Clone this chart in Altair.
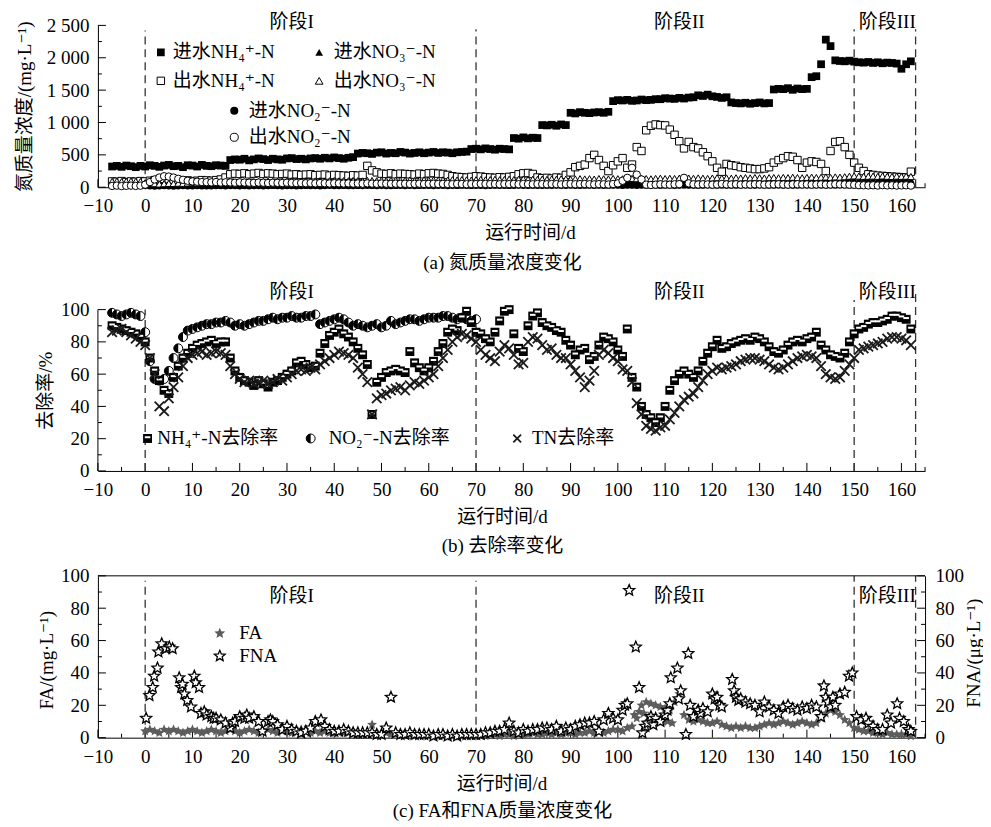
import math
import pandas as pd
import altair as alt

FONT = "Liberation Serif, DejaVu Serif, Noto Sans CJK SC"
FS = 19

# ---------------- data ----------------
A_START = -7   # first day of the daily series in panels (a) and (b)

# (a) mg/L, one value per day from day -7 to 162
INF_NH4 = [320, 330, 315, 335, 325, 310, 330, 320, 340, 330,
           315, 335, 345, 325, 330, 310, 340, 335, 320, 345,
           330, 325, 340, 335, 330, 420, 430, 425, 440, 415,
           430, 445, 435, 420, 440, 430, 425, 445, 450, 435,
           440, 430, 445, 450, 440, 455, 445, 460, 450, 440,
           455, 465, 520, 530, 525, 515, 535, 540, 520, 530,
           525, 545, 535, 520, 530, 540, 525, 535, 545, 530,
           540, 535, 525, 540, 545, 550, 590, 595, 585, 600,
           590, 580, 595, 590, 585, 760, 750, 770, 755, 765,
           760, 960, 955, 965, 950, 970, 960, 1150, 1140, 1160,
           1150, 1145, 1155, 1160, 1150, 1165, 1330, 1345, 1340, 1350,
           1335, 1340, 1355, 1345, 1350, 1360, 1360, 1375, 1370, 1365,
           1380, 1370, 1385, 1390, 1420, 1410, 1430, 1405, 1395, 1380,
           1390, 1310, 1300, 1295, 1305, 1290, 1300, 1310, 1295, 1300,
           1510, 1520, 1515, 1530, 1505, 1525, 1515, 1520, 1700, 1715,
           1900, 2280, 2180, 1960, 1950, 1945, 1955, 1940, 1930, 1925,
           1935, 1920, 1930, 1915, 1925, 1920, 1910, 1830, 1900, 1945]
EFF_NH4 = [90, 85, 95, 80, 90, 85, 95, 90, 100, 110,
           120, 130, 125, 115, 110, 100, 105, 95, 100, 110,
           105, 100, 110, 120, 150, 200, 210, 205, 215, 200,
           210, 220, 205, 215, 210, 200, 205, 210, 195, 200,
           190, 195, 200, 185, 190, 195, 180, 190, 185, 180,
           175, 185, 180, 190, 330, 260, 230, 210, 205, 215,
           200, 210, 205, 200, 195, 210, 200, 215, 220, 210,
           205, 190, 170, 160, 155, 150, 160, 170, 165, 155,
           150, 145, 155, 150, 160, 170, 200, 215, 220, 205,
           150, 140, 145, 135, 150, 145, 190, 230, 310, 330,
           350, 450, 500, 420, 330, 250, 340, 400, 450, 300,
           350, 620, 560, 880, 950, 970, 960, 955, 890, 810,
           710, 600, 700, 620, 600, 540, 480, 400, 300, 240,
           360, 340, 330, 310, 300, 290, 280, 280, 290, 310,
           380, 420, 450, 480, 470, 420, 300, 380, 400, 390,
           360, 250, 560, 700, 710, 620, 500, 380, 300, 250,
           200, 190, 180, 175, 170, 165, 160, 155, 150, 240]
INF_NO3 = [60, 65, 58, 62, 60, 55, 63, 60, 58, 62,
           65, 60, 62, 58, 64, 60, 66, 62, 60, 64,
           62, 66, 60, 64, 62, 68, 65, 70, 66, 68,
           70, 66, 72, 68, 70, 74, 70, 72, 68, 74,
           72, 70, 76, 72, 74, 70, 76, 74, 78, 72,
           76, 74, 78, 80, 76, 78, 82, 78, 80, 76,
           80, 78, 82, 84, 80, 82, 78, 84, 82, 80,
           84, 82, 86, 80, 84, 88, 86, 82, 88, 84,
           86, 90, 88, 84, 90, 88, 92, 86, 90, 94,
           90, 92, 88, 94, 92, 96, 90, 94, 98, 92,
           96, 94, 98, 100, 96, 92, 98, 102, 96, 100,
           98, 102, 100, 96, 104, 100, 98, 102, 106, 100,
           104, 100, 106, 102, 108, 104, 100, 106, 110, 104,
           108, 106, 110, 104, 112, 108, 110, 114, 108, 112,
           110, 114, 112, 116, 110, 114, 118, 112, 116, 114,
           118, 114, 120, 116, 122, 118, 120, 124, 118, 122,
           120, 124, 118, 122, 126, 120, 124, 122, 126, 120]
EFF_NO3 = [90, 95, 88, 92, 95, 90, 88, 70, 60, 55,
           50, 55, 60, 58, 62, 60, 65, 70, 68, 72,
           75, 70, 78, 80, 82, 85, 80, 88, 84, 90,
           86, 92, 88, 95, 90, 92, 96, 94, 98, 92,
           96, 100, 95, 98, 102, 96, 100, 104, 98, 102,
           100, 105, 102, 98, 106, 104, 100, 108, 104, 106,
           110, 106, 108, 112, 104, 110, 114, 108, 112, 110,
           114, 110, 116, 112, 118, 114, 110, 116, 120, 114,
           118, 122, 116, 120, 124, 118, 122, 126, 120, 124,
           122, 126, 120, 128, 124, 130, 126, 122, 128, 132,
           128, 132, 126, 134, 130, 128, 136, 132, 130, 134,
           136, 132, 138, 134, 130, 136, 140, 134, 138, 136,
           140, 136, 142, 138, 144, 140, 136, 142, 146, 140,
           144, 140, 146, 142, 148, 144, 150, 146, 142, 148,
           150, 146, 152, 148, 154, 150, 146, 152, 156, 150,
           154, 158, 152, 160, 156, 162, 170, 175, 172, 168,
           170, 172, 168, 174, 170, 166, 172, 168, 170, 165]
INF_NO2 = [30, 28, 32, 30, 26, 30, 28, 25, 22, 20,
           22, 25, 24, 20, 22, 26, 24, 22, 25, 23,
           24, 22, 26, 25, 23, 27, 25, 24, 26, 22,
           25, 27, 24, 26, 28, 25, 23, 27, 26, 24,
           26, 28, 25, 27, 24, 26, 29, 27, 25, 28,
           27, 25, 28, 26, 30, 28, 26, 29, 27, 25,
           28, 30, 27, 29, 26, 28, 31, 29, 27, 30,
           29, 27, 30, 28, 32, 30, 28, 31, 29, 27,
           30, 32, 29, 31, 28, 30, 33, 31, 29, 32,
           31, 29, 32, 30, 34, 32, 30, 33, 31, 29,
           32, 34, 31, 33, 30, 32, 35, 33, 31, 34,
           33, 31, 34, 32, 36, 34, 32, 35, 33, 31,
           34, 36, 33, 35, 32, 34, 37, 35, 33, 36,
           35, 33, 36, 34, 38, 36, 34, 37, 35, 33,
           36, 38, 35, 37, 34, 36, 39, 37, 35, 38,
           37, 35, 38, 36, 40, 38, 36, 39, 37, 35,
           38, 40, 37, 39, 36, 38, 41, 39, 37, 40]
EFF_NO2 = [20, 25, 18, 22, 25, 20, 24, 40, 80, 120,
           150, 170, 165, 150, 130, 115, 100, 90, 85, 80,
           78, 75, 80, 72, 76, 74, 70, 75, 72, 70,
           68, 72, 70, 66, 70, 68, 65, 70, 66, 64,
           66, 62, 65, 60, 64, 62, 58, 62, 60, 58,
           60, 56, 58, 55, 60, 56, 54, 58, 55, 52,
           55, 52, 54, 50, 53, 55, 50, 52, 54, 50,
           52, 50, 48, 52, 50, 46, 50, 48, 52, 50,
           48, 50, 46, 50, 48, 52, 46, 50, 48, 46,
           50, 48, 46, 50, 48, 44, 48, 50, 46, 48,
           50, 46, 44, 48, 46, 42, 50, 60, 100, 145,
           300, 195, 120, 40, 35, 40, 45, 42, 40, 45,
           48, 145, 60, 45, 42, 46, 44, 40, 42, 50,
           44, 42, 46, 40, 44, 42, 46, 44, 40, 42,
           44, 46, 42, 40, 44, 46, 42, 44, 40, 42,
           44, 40, 42, 46, 44, 42, 40, 38, 32, 30,
           28, 30, 26, 32, 28, 30, 26, 28, 30, 25]

# (b) removal rate %, one value per day from day -7
NH4_REM = [90, 89, 88, 87, 86, 85, 83, 80, 70, 62,
           56, 50, 48, 58, 65, 70, 73, 76, 78, 79,
           80, 81, 79, 80, 80, 70, 62, 58, 56, 55,
           53, 56, 54, 52, 55, 56, 58, 60, 62, 67,
           68, 66, 64, 65, 73, 79, 84, 86, 88, 85,
           83, 80, 76, 72, 66, 35, 55, 58, 61, 62,
           63, 62, 61, 74, 67, 64, 62, 64, 68, 74,
           79, 86, 88, 87, 95, 99, 92, 86, 85, 82,
           80, 86, 93, 99, 100, 85, 76, 74, 90, 96,
           98, 92, 90, 89, 87, 86, 81, 78, 72, 75,
           76, 69, 71, 78, 83, 82, 80, 75, 71, 88,
           58, 52, 40, 35, 33, 30, 33, 40, 50, 56,
           60, 62, 60, 58, 62, 68, 73, 77, 81, 76,
           77, 79, 80, 81, 82, 81, 83, 82, 80, 77,
           74, 73, 75, 78, 80, 81, 80, 82, 83, 86,
           78, 75, 72, 71, 70, 73, 80, 85, 88, 89,
           91, 92, 92, 93, 94, 96, 96, 95, 94, 88]
TN_REM = [86, 87, 88, 86, 84, 82, 80, 78, 70, 60,
          40, 37, 45, 52, 58, 65, 70, 72, 73, 74,
          72, 73, 74, 73, 72, 65, 60, 57, 55, 56,
          54, 55, 56, 54, 55, 57, 56, 58, 60, 62,
          63, 62, 64, 63, 66, 68, 70, 72, 74, 73,
          72, 70, 64, 60, 55, 35, 45, 47, 48, 50,
          51, 52, 50, 53, 55, 54, 56, 58, 60, 65,
          70, 75, 80, 83, 85, 84, 82, 80, 75, 72,
          70, 68, 74, 78, 76, 72, 66, 67, 80, 83,
          82, 78, 75, 76, 72, 70, 70, 66, 62, 58,
          52, 56, 62, 72, 75, 73, 70, 68, 63, 62,
          55, 42, 35, 28, 26, 25, 27, 28, 32, 36,
          40, 44, 46, 48, 52, 56, 60, 62, 64, 63,
          64, 65, 66, 68, 69, 70, 70, 69, 68, 66,
          64, 63, 64, 66, 68, 70, 71, 72, 71, 70,
          65, 60, 58, 57, 58, 62, 66, 70, 75, 76,
          77, 78, 79, 80, 82, 83, 83, 82, 81, 78]
NO2_REM = [98, 97, 96, 97, 98, 97, 96, 86, 68, 57,
           56, 57, 62, 70, 76, 83, 87, 88, 89, 90,
           91, 91, 92, 92, 93, 92, 90, 91, 90, 91,
           92, 93, 93, 94, 95, 94, 95, 95, 96, 95,
           95, 96, 96, 97, 91, 92, 93, 94, 95, 94,
           92, 90, 91, 90, 89, 90, 91, 89, 90, 93,
           91, 92, 93, 94, 94, 93, 94, 95, 95, 95,
           96, 96, 95, 94, 95, 94, 93, 94]

# (c) FA mg/L, one value per day from day 0
FA_START = 0
FA = [4, 5, 4, 3, 5, 4, 5, 4, 3, 4,
      5, 4, 3, 4, 5, 4, 3, 4, 5, 4,
      3, 4, 5, 4, 3, 4, 5, 4, 3, 4,
      4, 3, 4, 5, 4, 3, 4, 3, 4, 3,
      3, 4, 3, 3, 4, 3, 2, 3, 8, 3,
      2, 3, 2, 2, 3, 2, 2, 1, 2, 2,
      2, 1, 2, 1, 2, 1, 1, 2, 1, 1,
      1, 2, 1, 2, 2, 1, 2, 2, 1, 2,
      2, 2, 3, 2, 2, 3, 2, 3, 2, 3,
      3, 2, 3, 3, 4, 3, 4, 3, 4, 5,
      5, 4, 6, 7, 12, 20, 22, 21, 20, 19,
      18, 17, 22, 27, 14, 11, 10, 11, 10, 9,
      9, 10, 8, 7, 6, 7, 6, 7, 6, 6,
      7, 8, 9, 8, 9, 10, 9, 8, 9, 10,
      9, 8, 9, 12, 15, 17, 16, 14, 11, 9,
      6, 5, 4, 4, 3, 3, 2, 3, 2, 2,
      2, 2, 1]
FA_EXTRA_DAY = [103.5, 104.5, 105.5, 106.5, 107.5, 108.5, 109.5, 110.5, 111.5]
FA_EXTRA = [14, 16, 15, 13, 12, 11, 10, 10, 9]

# (c) FNA ug/L (day, value)
FNA = [(0.2, 12), (0.9, 26), (1.6, 31), (1.9, 38), (2.6, 43), (2.8, 53), (3.5, 58),
       (4.4, 55), (5.1, 56), (5.8, 55), (7.2, 37), (7.6, 31), (7.9, 33), (8.3, 27),
       (8.9, 23), (9.7, 19), (10.4, 38), (10.7, 34), (11.4, 31), (11.8, 15),
       (12.5, 16), (13, 14), (14, 13), (14.5, 12), (15, 12), (16, 11), (17, 9),
       (18, 6), (18.5, 9), (19, 10), (20, 13), (21, 12), (21.5, 14), (22, 12),
       (23, 13), (24, 10), (24.8, 4), (26, 10), (26.5, 11), (27, 10), (28, 8),
       (29, 5), (30, 7), (31, 5), (32, 4), (33, 3), (34, 4), (35, 6), (36, 10),
       (37.2, 11), (38, 7), (39, 5), (40, 4), (41, 4), (42, 5), (43, 4), (44, 3),
       (45, 3), (46, 3), (47, 3), (48, 3), (49, 2), (50, 2), (51, 6), (52, 25),
       (53, 3), (54, 2), (55, 2), (56, 3), (57, 2), (58, 2), (59, 2), (60, 2),
       (61, 1), (62, 2), (63, 2), (64, 1), (65, 2), (66, 1), (67, 2), (68, 2),
       (69, 2), (70, 2), (71, 2), (72, 3), (73, 3), (74, 4), (75, 4), (76, 5),
       (77, 9), (78, 4), (79, 3), (80, 5), (81, 4), (82, 5), (83, 5), (84, 6),
       (85, 6), (86, 5), (87, 7), (88, 4), (89, 6), (90, 5), (91, 7), (92, 8),
       (93, 9), (94, 9), (95, 10), (96, 4), (97, 11), (98, 15), (99, 12),
       (100, 11), (101, 17), (101.5, 20), (102, 21), (102.4, 91), (103.8, 56),
       (104.5, 31), (105.2, 3), (105.8, 7), (106.3, 9), (107, 13), (107.5, 8),
       (108, 12), (109, 10), (110, 14), (110.5, 17), (111, 21), (111.2, 37),
       (112.6, 43), (112.9, 24), (113.3, 29), (114.4, 2), (114.9, 52), (115.3, 20),
       (116, 13), (117, 17), (117.5, 15), (118, 18), (119, 16), (120, 27),
       (120.5, 24), (121, 25), (121.5, 20), (122, 19), (124.2, 36), (124.6, 29),
       (125, 25), (125.5, 23), (126, 24), (127, 22), (128, 21), (129, 20),
       (130, 16), (131, 22), (132, 19), (133, 17), (134, 15), (135, 19), (136, 20),
       (137, 18), (138, 17), (139, 19), (140, 18), (141, 20), (142, 19),
       (143, 13), (143.6, 32), (144, 25), (144.5, 22), (145, 19), (145.5, 25),
       (146, 20), (147, 27), (148, 28), (148.9, 38), (149.6, 40), (150.5, 13),
       (151.5, 11), (152.5, 12), (153, 9), (154, 7), (155, 5), (156, 5), (157, 14),
       (157.8, 9), (159.1, 21), (159.6, 12), (160.5, 10), (161.5, 5), (162, 4)]

STAGE_DAYS = [0, 70, 150, 163]
STAGE_LABELS = ["阶段I", "阶段II", "阶段III"]
STAGE_LABEL_DAYS = [31, 113, 157]

# ---------------- layout ----------------
W = 828
HA, HC = 162, 162
HEAD_B = 18                     # head room above 100 % in panel (b)
HB = 161.5 + HEAD_B
YB_TOP = 100 * HB / 161.5
XDOM = [-10, 165]
xs = alt.Scale(domain=XDOM, nice=False, zero=False)
ya = alt.Scale(domain=[0, 2500], nice=False)
yb = alt.Scale(domain=[0, YB_TOP], nice=False)
yc = alt.Scale(domain=[0, 100], nice=False)
ONE = pd.DataFrame({"k": [0]})


def daily(values, start):
    return pd.DataFrame({"day": [start + i for i in range(len(values))], "v": values})


def star_path(inner=0.45):
    p = []
    for i in range(10):
        a = math.radians(-90 + 36 * i)
        r = 1.0 if i % 2 == 0 else inner
        p.append(f"{r * math.cos(a):.3f},{r * math.sin(a):.3f}")
    return "M" + "L".join(p) + "Z"


STAR = star_path()
XMARK = "M-1,-1L1,1M1,-1L-1,1"
HALF_LEFT = "M0,-1A1,1,0,0,0,0,1Z"
STRIPE = "M-0.62,-0.5L0.62,-0.5L0.62,-0.05L-0.62,-0.05Z"


def x_axis(title_x):
    return alt.Axis(values=list(range(-10, 161, 10)), ticks=False, domain=True,
                    domainColor="black", domainWidth=1, grid=False,
                    labelFont=FONT, labelFontSize=FS, labelColor="black", labelPadding=9.5,
                    labelOverlap=False, labelFlush=False,
                    title="运行时间/d", titleFont=FONT, titleFontSize=FS,
                    titleFontWeight="normal", titleColor="black",
                    titleX=title_x, titleY=45.5, titleAlign="center", titleBaseline="middle")


def y_axis(values, title, tx, ty, orient="left", domain=True, expr=None):
    kw = dict(values=values, ticks=False, domain=domain, domainColor="black", domainWidth=1,
              grid=False, orient=orient, labelFont=FONT, labelFontSize=FS, labelColor="black",
              labelPadding=9 if orient == "left" else 10, labelOverlap=False, labelFlush=False,
              title=title, titleFont=FONT, titleFontSize=FS, titleFontWeight="normal",
              titleColor="black", titleX=tx, titleY=ty, titleAngle=270,
              titleAlign="center", titleBaseline="middle")
    if expr:
        kw["labelExpr"] = expr
    return alt.Axis(**kw)


class Panel:
    """Helpers that give every layer of a panel the same scales and the same axes."""

    def __init__(self, ys, xaxis, yaxis, H):
        self.ys, self.xa, self.ya, self.H = ys, xaxis, yaxis, H

    def X(self, f):
        return alt.X(f, scale=xs, axis=self.xa)

    def Y(self, f):
        return alt.Y(f, scale=self.ys, axis=self.ya)

    def pts(self, df, **mk):
        mk.setdefault("opacity", 1)
        return alt.Chart(df).mark_point(**mk).encode(x=self.X("day:Q"), y=self.Y("v:Q"))

    def xticks(self, vals, length):
        return alt.Chart(pd.DataFrame({"t": vals})).mark_rule(color="black", strokeWidth=1).encode(
            x=self.X("t:Q"), y=alt.value(self.H), y2=alt.value(self.H - length))

    def yticks(self, vals, length, right=False):
        x0, x1 = (W, W - length) if right else (0, length)
        return alt.Chart(pd.DataFrame({"t": vals})).mark_rule(color="black", strokeWidth=1).encode(
            y=self.Y("t:Q"), x=alt.value(x0), x2=alt.value(x1))

    def dashes(self, tops):
        df = pd.DataFrame({"x": STAGE_DAYS, "y0": [0] * 4, "y1": tops})
        return alt.Chart(df).mark_rule(color="#333333", strokeWidth=1.3,
                                       strokeDash=[8, 5]).encode(
            x=self.X("x:Q"), y=self.Y("y0:Q"), y2="y1:Q")

    def stage_text(self, py):
        df = pd.DataFrame({"d": STAGE_LABEL_DAYS, "s": STAGE_LABELS})
        return alt.Chart(df).mark_text(font=FONT, fontSize=FS, color="black",
                                       baseline="middle").encode(
            x=self.X("d:Q"), y=alt.value(py), text="s:N")


def sym(px, py, **mk):
    mk.setdefault("opacity", 1)
    return alt.Chart(ONE).mark_point(**mk).encode(x=alt.value(px), y=alt.value(py))


def txt(px, py, s, align="left", size=FS):
    return alt.Chart(ONE).mark_text(text=s, align=align, baseline="middle", font=FONT,
                                    fontSize=size, color="black").encode(
        x=alt.value(px), y=alt.value(py))


MAJ_X = list(range(-10, 161, 10))
MIN_X = list(range(-5, 166, 10))

# ---------------- panel (a) ----------------
A = Panel(ya, x_axis(432.5),
          y_axis(list(range(0, 2501, 500)), "氮质量浓度/(mg·L⁻¹)", -73, HA / 2,
                 expr="replace(format(datum.value, ','), ',', ' ')"), HA)
OPEN = dict(filled=True, fill="white", stroke="black", strokeWidth=1)
pa = alt.layer(
    A.xticks(MAJ_X, 8),
    A.xticks(MIN_X, 4),
    A.yticks(list(range(0, 2501, 500)), 8),
    A.yticks(list(range(250, 2500, 500)), 4),
    A.dashes([2420, 2440, 2440, 2440]),
    A.pts(daily(INF_NO2, A_START), shape="circle", size=55, filled=True, color="black"),
    A.pts(daily(INF_NH4, A_START), shape="square", size=60, filled=True, color="black"),
    A.pts(daily(EFF_NH4, A_START), shape="square", size=55, **OPEN),
    A.pts(daily(INF_NO3, A_START), shape="triangle-up", size=50, filled=True, color="black"),
    A.pts(daily(EFF_NO3, A_START), shape="triangle-up", size=50, **OPEN),
    A.pts(daily(EFF_NO2, A_START), shape="circle", size=55, **OPEN),
    A.stage_text(-3.5),
    sym(63, 27, shape="square", size=60, filled=True, color="black"),
    txt(75, 27, "进水NH₄⁺-N"),
    sym(221.5, 27, shape="triangle-up", size=60, filled=True, color="black"),
    txt(236, 27, "进水NO₃⁻-N"),
    sym(63, 55.5, shape="square", size=55, **OPEN),
    txt(75, 55.5, "出水NH₄⁺-N"),
    sym(221.5, 55.5, shape="triangle-up", size=60, **OPEN),
    txt(236, 55.5, "出水NO₃⁻-N"),
    sym(136.5, 85.5, shape="circle", size=65, filled=True, color="black"),
    txt(151, 85.5, "进水NO₂⁻-N"),
    sym(136.5, 112, shape="circle", size=65, **OPEN),
    txt(151, 112, "出水NO₂⁻-N"),
    txt(405, HA + 75.5, "(a) 氮质量浓度变化", align="center"),
).properties(width=W, height=HA)

# ---------------- panel (b) ----------------
B = Panel(yb, x_axis(404.5),
          y_axis(list(range(0, 101, 20)), "去除率/%", -52, HEAD_B + 80.75, domain=False), HB)


def nh4_marker(df=None, pos=None):
    if pos:
        return [sym(*pos, shape="square", size=80, filled=True, color="black"),
                sym(*pos, shape=STRIPE, size=80, filled=True, color="white")]
    return [B.pts(df, shape="square", size=80, filled=True, color="black"),
            B.pts(df, shape=STRIPE, size=80, filled=True, color="white")]


def no2_marker(df=None, pos=None):
    if pos:
        return [sym(*pos, shape="circle", size=80, **OPEN),
                sym(*pos, shape=HALF_LEFT, size=80, filled=True, color="black")]
    return [B.pts(df, shape="circle", size=80, **OPEN),
            B.pts(df, shape=HALF_LEFT, size=80, filled=True, color="black")]


axis_line_b = alt.Chart(pd.DataFrame({"a": [0], "b": [100]})).mark_rule(
    color="black", strokeWidth=1).encode(x=alt.value(0), y=B.Y("a:Q"), y2="b:Q")

LEG_B = HEAD_B + 129
pb = alt.layer(
    B.xticks(MAJ_X, 8),
    B.xticks(MIN_X, 4),
    B.yticks(list(range(0, 101, 20)), 8),
    B.yticks(list(range(10, 100, 20)), 4),
    axis_line_b,
    B.dashes([100, 97, 106, 110]),
    *no2_marker(daily(NO2_REM, A_START)),
    *nh4_marker(daily(NH4_REM, A_START)),
    B.pts(daily(TN_REM, A_START), shape=XMARK, size=90, filled=False, color="#1a1a1a",
          strokeWidth=1.8),
    B.stage_text(HEAD_B - 17.5),
    *nh4_marker(pos=(49.7, LEG_B)),
    txt(59.5, LEG_B, "NH₄⁺-N去除率"),
    *no2_marker(pos=(213, LEG_B)),
    txt(231, LEG_B, "NO₂⁻-N去除率"),
    sym(419.7, LEG_B, shape=XMARK, size=60, filled=False, color="#1a1a1a", strokeWidth=1.8),
    txt(434.5, LEG_B, "TN去除率"),
    txt(405, HB + 75, "(b) 去除率变化", align="center"),
).properties(width=W, height=HB)

# ---------------- panel (c) ----------------
C = Panel(yc, x_axis(404), y_axis(list(range(0, 101, 20)), "FA/(mg·L⁻¹)", -51, 84), HC)
CR = Panel(yc, x_axis(404),
           y_axis(list(range(0, 101, 20)), "FNA/(μg·L⁻¹)", 48, 77, orient="right"), HC)
top_border = alt.Chart(ONE).mark_rule(color="black", strokeWidth=1).encode(
    x=alt.value(0), x2=alt.value(W), y=alt.value(0))

c_main = alt.layer(
    C.xticks(MAJ_X, 8),
    C.xticks(MIN_X, 4),
    C.yticks(list(range(0, 101, 20)), 8),
    C.yticks(list(range(10, 100, 20)), 4),
    C.dashes([97, 97, 100, 100]),
    C.pts(daily(FA, FA_START), shape=STAR, size=110, filled=True, color="#5c5c5c"),
    C.pts(pd.DataFrame({"day": FA_EXTRA_DAY, "v": FA_EXTRA}), shape=STAR, size=110,
          filled=True, color="#5c5c5c"),
    C.pts(pd.DataFrame(FNA, columns=["day", "v"]), shape=STAR, size=135, filled=True,
          fill="white", stroke="black", strokeWidth=1.3),
    top_border,
    C.stage_text(20),
    sym(122, 57.6, shape=STAR, size=130, filled=True, color="#5c5c5c"),
    txt(141.5, 57.6, "FA"),
    sym(122, 80.3, shape=STAR, size=130, filled=True, fill="white", stroke="black",
        strokeWidth=1.3),
    txt(141.5, 80.3, "FNA"),
    txt(405, HC + 73, "(c) FA和FNA质量浓度变化", align="center"),
)
c_right = alt.layer(
    CR.yticks(list(range(0, 101, 20)), 8, right=True),
    CR.yticks(list(range(10, 100, 20)), 4, right=True),
)

pc = alt.layer(c_main, c_right).resolve_scale(y="independent").properties(width=W, height=HC)

chart = alt.vconcat(pa, pb, pc, spacing=104.5, bounds="flush").configure_view(
    stroke=None).configure_axis(labelOverlap=False).properties(
    padding={"left": 8, "top": 4, "right": 0, "bottom": 0}, background="white")

chart.save("out.html", embed_options={"renderer": "svg", "actions": False})
